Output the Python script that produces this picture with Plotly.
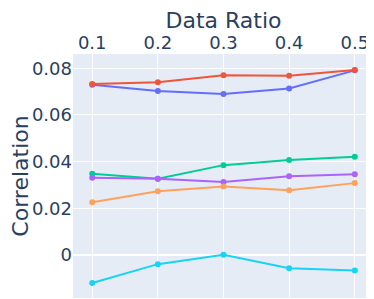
import plotly.graph_objects as go

ratios = [0.1, 0.2, 0.3, 0.4, 0.5]
s_blue = [0.0729, 0.0703, 0.0690, 0.0713, 0.0791]
s_red = [0.0733, 0.0740, 0.0770, 0.0768, 0.0793]
s_green = [0.0348, 0.0327, 0.0385, 0.0407, 0.0421]
s_purple = [0.0331, 0.0327, 0.0313, 0.0337, 0.0346]
s_orange = [0.0226, 0.0273, 0.0293, 0.0278, 0.0308]
s_cyan = [-0.0120, -0.0039, 0.0001, -0.0057, -0.0066]

series = [s_blue, s_red, s_green, s_purple, s_orange, s_cyan]

fig = go.Figure()
for s in series:
    fig.add_trace(go.Scatter(x=ratios, y=s, mode="lines+markers",
                             marker=dict(size=6), line=dict(width=2)))

fig.update_layout(
    width=374, height=299,
    showlegend=False,
    margin=dict(l=65, r=8, t=46, b=9),
    font=dict(size=18, family="DejaVu Sans, Verdana, sans-serif"),
    xaxis=dict(side="top", automargin=False,
               title=dict(text="Data Ratio", font=dict(size=22), standoff=4),
               tickvals=ratios, ticktext=["0.1", "0.2", "0.3", "0.4", "0.5"],
               range=[0.0707, 0.5293]),
    yaxis=dict(automargin=False, title=dict(text="Correlation", font=dict(size=22), standoff=4),
               range=[-0.0184, 0.0861], tickvals=[0, 0.02, 0.04, 0.06, 0.08],
               ticktext=["0", "0.02", "0.04", "0.06", "0.08"], zeroline=True),
)
fig.write_html("out.html")
